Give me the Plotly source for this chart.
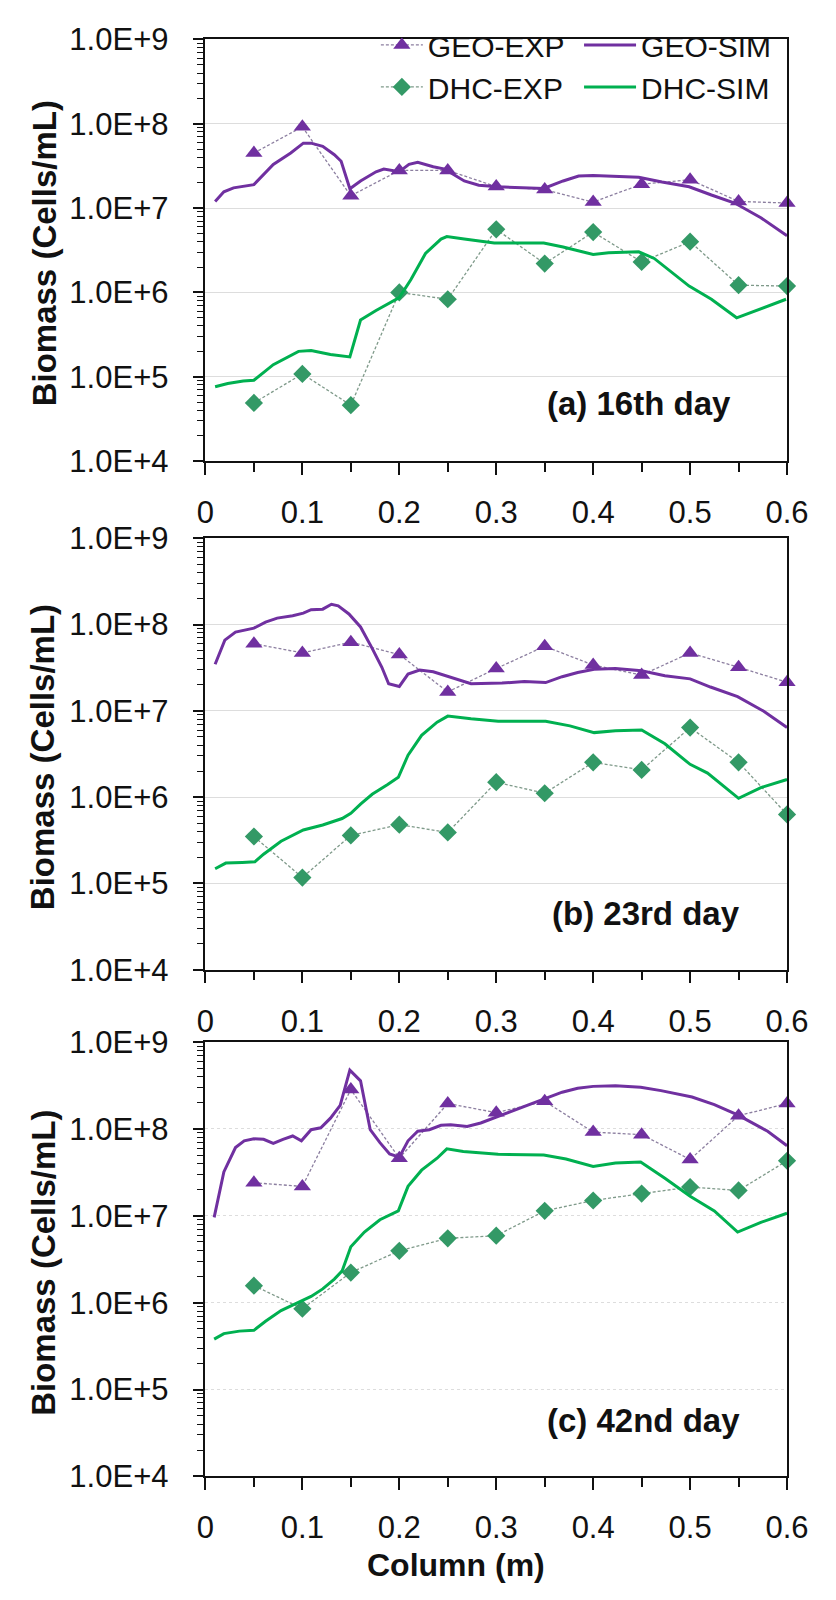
import plotly.graph_objects as go

# ---------------- data ----------------
exp_x = [0.05, 0.10, 0.15, 0.20, 0.25, 0.30, 0.35, 0.40, 0.45, 0.50, 0.55, 0.60]

# (a) 16th day
a_geo_exp = [4.5e7, 9.2e7, 1.4e7, 2.8e7, 2.8e7, 1.8e7, 1.66e7, 1.18e7, 1.92e7, 2.17e7, 1.2e7, 1.15e7]
a_dhc_exp = [4.9e4, 1.08e5, 4.6e4, 1.0e6, 8.3e5, 5.6e6, 2.2e6, 5.2e6, 2.3e6, 4.0e6, 1.22e6, 1.19e6]
a_geo_sim_x = [0.010, 0.019, 0.029, 0.050, 0.070, 0.088, 0.101, 0.109, 0.121, 0.133, 0.140, 0.149,
               0.160, 0.176, 0.184, 0.200, 0.210, 0.219, 0.235, 0.247, 0.267, 0.282, 0.302, 0.349,
               0.369, 0.385, 0.400, 0.424, 0.447, 0.471, 0.499, 0.522, 0.546, 0.573, 0.600]
a_geo_sim = [1.2e7, 1.56e7, 1.74e7, 1.9e7, 3.3e7, 4.5e7, 5.9e7, 5.9e7, 5.4e7, 4.3e7, 3.6e7, 1.7e7,
             2.1e7, 2.7e7, 2.9e7, 2.7e7, 3.3e7, 3.5e7, 3.1e7, 2.9e7, 2.1e7, 1.87e7, 1.79e7, 1.71e7,
             2.1e7, 2.4e7, 2.44e7, 2.4e7, 2.33e7, 2.04e7, 1.79e7, 1.43e7, 1.15e7, 7.7e6, 4.7e6]
a_dhc_sim_x = [0.010, 0.023, 0.039, 0.050, 0.070, 0.096, 0.109, 0.129, 0.149, 0.160, 0.176, 0.200,
               0.212, 0.227, 0.243, 0.249, 0.267, 0.298, 0.349, 0.369, 0.400, 0.416, 0.447, 0.463,
               0.499, 0.522, 0.548, 0.573, 0.599]
a_dhc_sim = [7.6e4, 8.3e4, 8.9e4, 9.1e4, 1.39e5, 2.0e5, 2.05e5, 1.84e5, 1.72e5, 4.7e5, 6.1e5, 8.7e5,
             1.42e6, 2.9e6, 4.3e6, 4.6e6, 4.3e6, 3.85e6, 3.85e6, 3.46e6, 2.82e6, 2.95e6, 3.03e6, 2.53e6,
             1.19e6, 8.3e5, 5.0e5, 6.4e5, 8.3e5]

# (b) 23rd day
b_geo_exp = [6.0e7, 4.7e7, 6.25e7, 4.5e7, 1.66e7, 3.1e7, 5.6e7, 3.4e7, 2.6e7, 4.7e7, 3.2e7, 2.15e7]
b_dhc_exp = [3.5e5, 1.17e5, 3.6e5, 4.8e5, 3.9e5, 1.49e6, 1.11e6, 2.53e6, 2.07e6, 6.4e6, 2.53e6, 6.3e5]
b_geo_sim_x = [0.010, 0.020, 0.031, 0.042, 0.050, 0.062, 0.074, 0.090, 0.101, 0.109, 0.121, 0.130,
               0.137, 0.148, 0.160, 0.172, 0.182, 0.189, 0.200, 0.209, 0.221, 0.235, 0.251, 0.274,
               0.306, 0.329, 0.351, 0.368, 0.384, 0.401, 0.423, 0.450, 0.474, 0.500, 0.521, 0.549,
               0.576, 0.600]
b_geo_sim = [3.47e7, 6.6e7, 8.2e7, 8.8e7, 9.1e7, 1.07e8, 1.19e8, 1.27e8, 1.36e8, 1.49e8, 1.51e8, 1.72e8,
             1.65e8, 1.33e8, 9.4e7, 5.3e7, 3.2e7, 2.06e7, 1.92e7, 2.67e7, 2.97e7, 2.84e7, 2.49e7, 2.06e7,
             2.1e7, 2.19e7, 2.13e7, 2.49e7, 2.79e7, 3.04e7, 3.1e7, 2.91e7, 2.56e7, 2.35e7, 1.89e7, 1.46e7,
             9.9e6, 6.4e6]
b_dhc_sim_x = [0.010, 0.021, 0.038, 0.051, 0.060, 0.078, 0.101, 0.121, 0.141, 0.150, 0.160, 0.172,
               0.188, 0.199, 0.209, 0.223, 0.239, 0.250, 0.274, 0.302, 0.351, 0.376, 0.401, 0.423,
               0.450, 0.474, 0.500, 0.518, 0.550, 0.573, 0.600]
b_dhc_sim = [1.48e5, 1.72e5, 1.75e5, 1.78e5, 2.18e5, 3.08e5, 4.17e5, 4.75e5, 5.65e5, 6.5e5, 8.3e5, 1.08e6,
             1.40e6, 1.70e6, 3.06e6, 5.2e6, 7.4e6, 8.7e6, 8.1e6, 7.6e6, 7.6e6, 6.7e6, 5.6e6, 5.9e6,
             6.0e6, 4.15e6, 2.4e6, 1.9e6, 9.7e5, 1.29e6, 1.6e6]

# (c) 42nd day
c_geo_exp = [2.4e7, 2.18e7, 2.84e8, 4.6e7, 1.96e8, 1.54e8, 2.08e8, 9.2e7, 8.6e7, 4.45e7, 1.42e8, 1.96e8]
c_dhc_exp = [1.57e6, 8.5e5, 2.22e6, 3.95e6, 5.5e6, 5.9e6, 1.14e7, 1.5e7, 1.8e7, 2.14e7, 1.96e7, 4.3e7]
c_geo_sim_x = [0.009, 0.019, 0.031, 0.040, 0.050, 0.060, 0.070, 0.080, 0.090, 0.099, 0.109, 0.119,
               0.129, 0.139, 0.149, 0.160, 0.170, 0.180, 0.190, 0.200, 0.209, 0.219, 0.231, 0.243,
               0.253, 0.270, 0.284, 0.302, 0.325, 0.347, 0.368, 0.384, 0.400, 0.423, 0.449, 0.470,
               0.502, 0.525, 0.549, 0.580, 0.600]
c_geo_sim = [9.6e6, 3.2e7, 6.1e7, 7.3e7, 7.7e7, 7.6e7, 6.8e7, 7.6e7, 8.3e7, 7.3e7, 9.8e7, 1.03e8,
             1.33e8, 1.87e8, 4.75e8, 3.58e8, 9.8e7, 6.96e7, 5.15e7, 4.73e7, 7.3e7, 9.4e7, 9.8e7, 1.1e8,
             1.12e8, 1.07e8, 1.17e8, 1.39e8, 1.72e8, 2.13e8, 2.65e8, 2.94e8, 3.09e8, 3.15e8, 3.01e8, 2.76e8,
             2.33e8, 1.91e8, 1.45e8, 9.4e7, 6.4e7]
c_dhc_sim_x = [0.009, 0.019, 0.035, 0.050, 0.062, 0.078, 0.097, 0.109, 0.121, 0.133, 0.141, 0.150,
               0.164, 0.180, 0.199, 0.209, 0.223, 0.239, 0.249, 0.266, 0.302, 0.349, 0.372, 0.400,
               0.423, 0.449, 0.474, 0.500, 0.525, 0.549, 0.573, 0.600]
c_dhc_sim = [3.8e5, 4.4e5, 4.7e5, 4.8e5, 6.1e5, 8.1e5, 1.02e6, 1.18e6, 1.44e6, 1.87e6, 2.32e6, 4.4e6,
             6.5e6, 9.0e6, 1.14e7, 2.18e7, 3.35e7, 4.6e7, 5.9e7, 5.5e7, 5.1e7, 5.0e7, 4.5e7, 3.7e7,
             4.05e7, 4.15e7, 2.7e7, 1.68e7, 1.14e7, 6.5e6, 8.4e6, 1.07e7]

panel_labels = ["(a) 16th day", "(b) 23rd day", "(c) 42nd day"]
y_title = "Biomass (Cells/mL)"
x_title = "Column (m)"
y_tick_vals = [1e4, 1e5, 1e6, 1e7, 1e8, 1e9]
y_tick_text = ["1.0E+4", "1.0E+5", "1.0E+6", "1.0E+7", "1.0E+8", "1.0E+9"]
x_tick_vals = [0, 0.1, 0.2, 0.3, 0.4, 0.5, 0.6]
x_tick_text = ["0", "0.1", "0.2", "0.3", "0.4", "0.5", "0.6"]

# ---------------- style ----------------
FONT = "Liberation Sans, Arial, sans-serif"
PURPLE = "#7030A0"
GREEN_SIM = "#00B050"
GREEN_EXP = "#339966"
GEO_DASH = "#8C7FA0"
DHC_DASH = "#7F9A8A"

panels = [
    dict(geo_exp=a_geo_exp, dhc_exp=a_dhc_exp, gsx=a_geo_sim_x, gs=a_geo_sim, dsx=a_dhc_sim_x, ds=a_dhc_sim),
    dict(geo_exp=b_geo_exp, dhc_exp=b_dhc_exp, gsx=b_geo_sim_x, gs=b_geo_sim, dsx=b_dhc_sim_x, ds=b_dhc_sim),
    dict(geo_exp=c_geo_exp, dhc_exp=c_dhc_exp, gsx=c_geo_sim_x, gs=c_geo_sim, dsx=c_dhc_sim_x, ds=c_dhc_sim),
]

W, H = 836, 1600
x_dom = [204 / W, 808 / W]
y_px = [(23, 454), (533, 974), (1048, 1492)]
label_pos = [(0.447, 4.684), (0.455, 4.65), (0.452, 4.64)]
ytitle_pos = [(37, 242), (35, 757), (35, 1274)]

fig = go.Figure()
for i, p in enumerate(panels):
    sx = "" if i == 0 else str(i + 1)
    xa, ya = "x" + sx, "y" + sx
    first = i == 0
    fig.add_trace(go.Scatter(
        x=exp_x, y=p["geo_exp"], xaxis=xa, yaxis=ya, mode="lines+markers", name="GEO-EXP",
        line=dict(color=GEO_DASH, width=1.3, dash="3px,2px"),
        marker=dict(symbol="triangle-up", size=15, color=PURPLE),
        cliponaxis=False, showlegend=first, legend="legend"))
    fig.add_trace(go.Scatter(
        x=exp_x, y=p["dhc_exp"], xaxis=xa, yaxis=ya, mode="lines+markers", name="DHC-EXP",
        line=dict(color=DHC_DASH, width=1.3, dash="3px,2px"),
        marker=dict(symbol="diamond", size=14, color=GREEN_EXP),
        cliponaxis=False, showlegend=first, legend="legend"))
    fig.add_trace(go.Scatter(
        x=p["gsx"], y=p["gs"], xaxis=xa, yaxis=ya, mode="lines", name="GEO-SIM",
        line=dict(color=PURPLE, width=3), showlegend=first, legend="legend2"))
    fig.add_trace(go.Scatter(
        x=p["dsx"], y=p["ds"], xaxis=xa, yaxis=ya, mode="lines", name="DHC-SIM",
        line=dict(color=GREEN_SIM, width=3), showlegend=first, legend="legend2"))

    top, bot = y_px[i]
    xaxis = dict(
        domain=x_dom, anchor=ya, range=[0, 0.6], tickmode="array",
        tickvals=x_tick_vals, ticktext=x_tick_text,
        ticks="outside", ticklen=12, tickwidth=1.5, tickcolor="#111",
        minor=dict(ticks="outside", ticklen=9, tickwidth=1.5, tickcolor="#111", dtick=0.05, tick0=0),
        showline=True, linecolor="#111", linewidth=1.5, mirror=True, showgrid=False, zeroline=False,
        tickfont=dict(family=FONT, size=31, color="#111"), ticklabelstandoff=11,
    )
    minor_vals = [k * 10 ** n for n in range(4, 9) for k in range(2, 10)]
    yaxis = dict(
        domain=[1 - bot / H, 1 - top / H], anchor=xa, type="log", range=[4, 9],
        tickmode="array", tickvals=y_tick_vals, ticktext=y_tick_text,
        ticks="outside", ticklen=11, tickwidth=1.5, tickcolor="#111",
        minor=dict(ticks="outside", ticklen=7, tickwidth=1.2, tickcolor="#111",
                   tickmode="array", tickvals=minor_vals, showgrid=False),
        showline=True, linecolor="#111", linewidth=1.5, mirror=True,
        showgrid=True, gridcolor="#DDDDDD", gridwidth=1, griddash="solid" if i < 2 else "dot",
        zeroline=False,
        tickfont=dict(family=FONT, size=31, color="#111"), ticklabelstandoff=18,
    )
    fig.update_layout({"xaxis" + sx: xaxis, "yaxis" + sx: yaxis})

    lx, ly = label_pos[i]
    fig.add_annotation(x=lx, y=ly, xref=xa, yref=ya, text="<b>" + panel_labels[i] + "</b>",
                       showarrow=False, xanchor="center", yanchor="middle",
                       font=dict(family=FONT, size=33, color="#111"))
    tx, ty = ytitle_pos[i]
    fig.add_annotation(x=tx / W, y=1 - ty / H, xref="paper", yref="paper", text="<b>" + y_title + "</b>",
                       textangle=-90, showarrow=False, xanchor="center", yanchor="middle",
                       font=dict(family=FONT, size=33, color="#111"))

fig.add_annotation(x=464 / W, y=1 - 1583 / H, xref="paper", yref="paper", text="<b>" + x_title + "</b>",
                   showarrow=False, xanchor="center", yanchor="middle",
                   font=dict(family=FONT, size=32, color="#111"))

fig.update_layout(
    width=W, height=H, margin=dict(l=0, r=0, t=0, b=0),
    paper_bgcolor="white", plot_bgcolor="white",
    font=dict(family=FONT, color="#111"),
    legend=dict(x=381 / W, y=1 - 2 / H, xanchor="left", yanchor="top", orientation="v",
                font=dict(family=FONT, size=30, color="#111"), bgcolor="rgba(0,0,0,0)",
                itemwidth=42, tracegroupgap=0, traceorder="normal"),
    legend2=dict(x=592 / W, y=1 - 2 / H, xanchor="left", yanchor="top", orientation="v",
                 font=dict(family=FONT, size=30, color="#111"), bgcolor="rgba(0,0,0,0)",
                 itemwidth=52, tracegroupgap=0, traceorder="normal"),
)

fig.write_html("out.html")
